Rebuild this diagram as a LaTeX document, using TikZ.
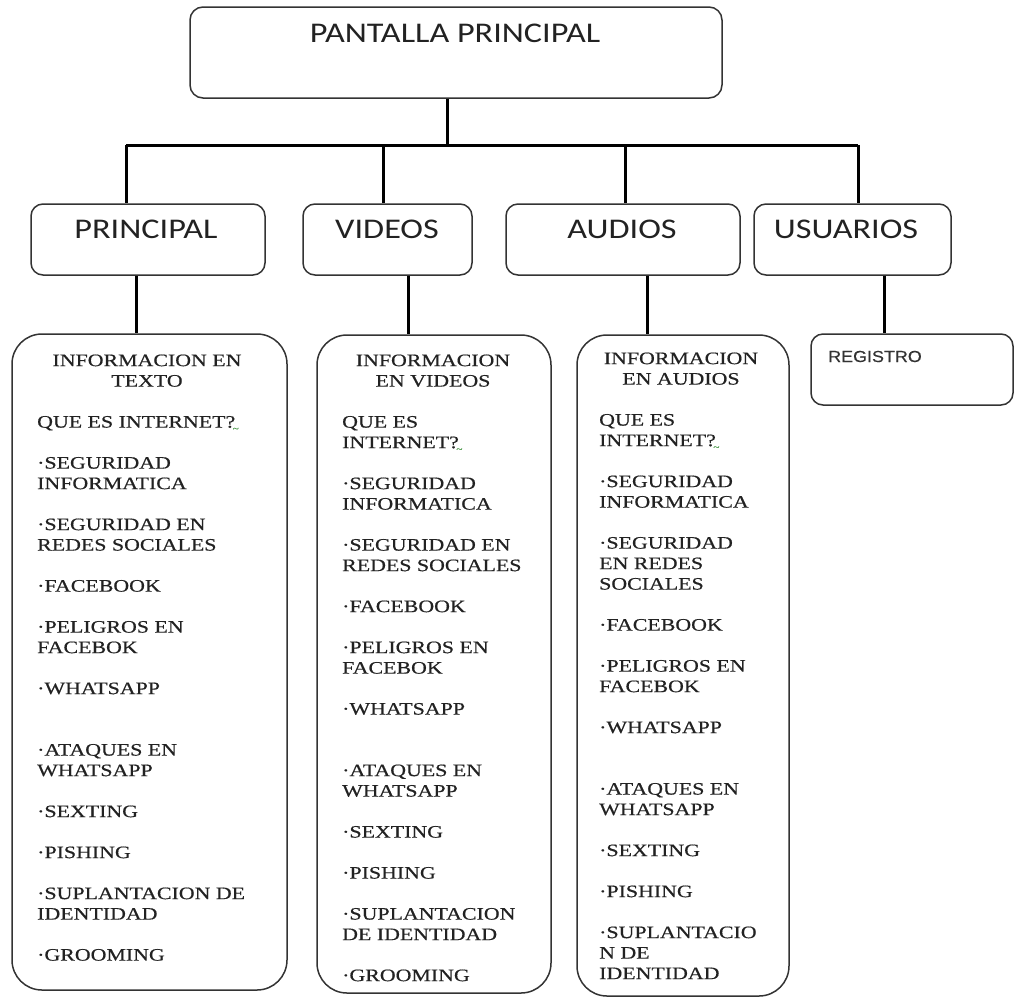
\documentclass[tikz,border=0pt]{standalone}
\usepackage{fontspec}
\setmainfont{Liberation Serif}
\newfontfamily\listfont[FakeStretch=1.25,FakeBold=0.6]{Liberation Serif}
\newfontfamily\headfont[FakeStretch=1.2]{Carlito}
\newfontfamily\regfont[FakeStretch=1.12,FakeBold=0.4]{Liberation Sans}
\definecolor{ink}{HTML}{222222}
\definecolor{edge}{HTML}{333333}
\definecolor{spell}{HTML}{4C9A4C}
\newcommand{\gap}{\\[20.5pt]}
% spell-check wave under a question mark
\newcommand{\squig}{\rlap{\kern-2.5pt\raisebox{-4pt}{\textcolor{spell}{\fontsize{9}{9}\selectfont\textasciitilde}}}}
\begin{document}
\begin{tikzpicture}[x=1pt,y=-1pt,
  box/.style={draw=edge, line width=1.5pt, rounded corners=13pt, inner sep=0},
  tallbox/.style={draw=edge, line width=1.5pt, rounded corners=30pt, inner sep=0},
  link/.style={draw=black, line width=3pt},
  headtxt/.style={font=\headfont\fontsize{28.5}{34}\selectfont, text=ink, inner sep=0, anchor=base},
  regtxt/.style={font=\regfont\fontsize{16}{19}\selectfont, text=edge, inner sep=0, anchor=base west},
  listtxt/.style={font=\listfont\fontsize{17.5}{20.5}\selectfont, text=ink, inner sep=0, align=left, anchor=north west},
  listhead/.style={font=\listfont\fontsize{17.5}{20.5}\selectfont, text=ink, inner sep=0, align=center, anchor=north},
]
\useasboundingbox (0,0) rectangle (1015,997);

% boxes
\node[box, minimum width=532pt, minimum height=91pt] (top) at (456,52.5) {};
\node[box, rounded corners=12pt, minimum width=234pt, minimum height=71pt] (b1) at (148,239.5) {};
\node[box, rounded corners=12pt, minimum width=169pt, minimum height=71pt] (b2) at (387.5,239.5) {};
\node[box, rounded corners=12pt, minimum width=234pt, minimum height=71pt] (b3) at (623,239.5) {};
\node[box, rounded corners=12pt, minimum width=197pt, minimum height=71pt] (b4) at (852.5,239.5) {};
\node[tallbox, minimum width=275pt, minimum height=656pt] (c1) at (149.5,662) {};
\node[tallbox, minimum width=234pt, minimum height=658pt] (c2) at (434,664) {};
\node[tallbox, minimum width=212pt, minimum height=661pt] (c3) at (683,665.5) {};
\node[box, rounded corners=12pt, minimum width=202pt, minimum height=71pt] (reg) at (912,369.5) {};

% connectors
\coordinate (j0) at (447,145);
\coordinate (jA) at (126,145);
\coordinate (jB) at (383,145);
\coordinate (jC) at (625,145);
\coordinate (jD) at (858,145);
\coordinate (kA) at (136,300);
\coordinate (kB) at (408,300);
\coordinate (kC) at (647,300);
\coordinate (kD) at (884,300);
\draw[link] (top.south -| j0) -- (j0);
\draw[link] (jA) -- (jD);
\draw[link] (jA) -- (jA |- b1.north);
\draw[link] (jB) -- (jB |- b2.north);
\draw[link] (jC) -- (jC |- b3.north);
\draw[link] (jD) -- (jD |- b4.north);
\draw[link] (b1.south -| kA) -- (c1.north -| kA);
\draw[link] (b2.south -| kB) -- (c2.north -| kB);
\draw[link] (b3.south -| kC) -- (c3.north -| kC);
\draw[link] (b4.south -| kD) -- (reg.north -| kD);

% titles
\node[headtxt] (ttop) at (455,42) {PANTALLA PRINCIPAL};
\node[headtxt] (t1) at (146,238) {PRINCIPAL};
\node[headtxt] (t2) at (387,238) {VIDEOS};
\node[headtxt] (t3) at (622,238) {AUDIOS};
\node[headtxt] (t4) at (846,238) {USUARIOS};
\node[regtxt] (treg) at (828,362) {REGISTRO};

% text column
\node[listhead] (h1) at (147,354.3) {INFORMACION EN\\TEXTO};
\node[listtxt] (l1) at (37,415.8) {QUE ES INTERNET?\squig\gap
·SEGURIDAD\\INFORMATICA\gap
·SEGURIDAD EN\\REDES SOCIALES\gap
·FACEBOOK\gap
·PELIGROS EN\\FACEBOK\gap
·WHATSAPP\\[41pt]
·ATAQUES EN\\WHATSAPP\gap
·SEXTING\gap
·PISHING\gap
·SUPLANTACION DE\\IDENTIDAD\gap
·GROOMING};

% video column
\node[listhead] (h2) at (433,354.3) {INFORMACION\\EN VIDEOS};
\node[listtxt] (l2) at (342,415.8) {QUE ES\\INTERNET?\squig\gap
·SEGURIDAD\\INFORMATICA\gap
·SEGURIDAD EN\\REDES SOCIALES\gap
·FACEBOOK\gap
·PELIGROS EN\\FACEBOK\gap
·WHATSAPP\\[41pt]
·ATAQUES EN\\WHATSAPP\gap
·SEXTING\gap
·PISHING\gap
·SUPLANTACION\\DE IDENTIDAD\gap
·GROOMING};

% audio column
\node[listhead] (h3) at (681,352.3) {INFORMACION\\EN AUDIOS};
\node[listtxt] (l3) at (599,413.8) {QUE ES\\INTERNET?\squig\gap
·SEGURIDAD\\INFORMATICA\gap
·SEGURIDAD\\EN REDES\\SOCIALES\gap
·FACEBOOK\gap
·PELIGROS EN\\FACEBOK\gap
·WHATSAPP\\[41pt]
·ATAQUES EN\\WHATSAPP\gap
·SEXTING\gap
·PISHING\gap
·SUPLANTACIO\\N DE\\IDENTIDAD};
\end{tikzpicture}
\end{document}
